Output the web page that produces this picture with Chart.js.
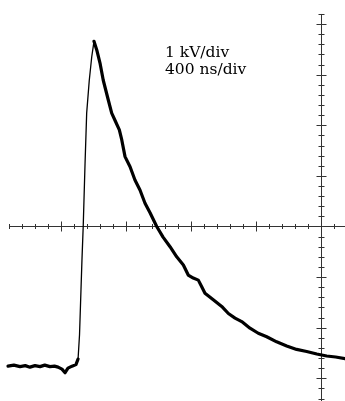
<!DOCTYPE html>
<html>
<head>
<meta charset="utf-8">
<script src="https://cdn.jsdelivr.net/npm/chart.js@4"></script>
<style>
html,body{margin:0;padding:0;background:#fff;}
#wrap{width:345px;height:401px;}
</style>
</head>
<body>
<div id="wrap"><canvas id="c" width="345" height="401"></canvas></div>
<script>
// Time (ns) and voltage (kV)
const timeNs = [-326,-290,-252,-220,-191,-160,-129,-100,-68,-40,-18,6,25,43,68,92,105,114,123,129,137,148,158,174,189,203,
  220,240,260,291,312,332,359,374,394,425,455,486,517,548,589,628,671,712,753,783,814,845,866,886,937,989,1030,1071,1112,
  1163,1214,1266,1327,1389,1450,1512,1574,1635,1690,1748];
const voltageKv = [-2.76,-2.74,-2.77,-2.75,-2.78,-2.75,-2.77,-2.74,-2.77,-2.76,-2.78,-2.82,-2.89,-2.80,-2.76,-2.73,-2.62,-2.14,-1.25,-0.66,0.03,1.25,2.24,2.89,3.35,3.66,
  3.49,3.23,2.89,2.50,2.24,2.10,1.91,1.71,1.38,1.18,0.92,0.72,0.46,0.27,0.00,-0.21,-0.40,-0.60,-0.76,-0.96,-1.02,-1.06,-1.19,-1.32,
  -1.45,-1.58,-1.72,-1.81,-1.88,-2.01,-2.11,-2.18,-2.28,-2.36,-2.43,-2.47,-2.52,-2.56,-2.58,-2.61];
const labelLines = ["1 kV/div", "400 ns/div"];
const xTickStepNs = 80, xMajorNs = 400;
const yTickStepKv = 0.2, yMajorKv = 1;
const axisTimeNs = 1600;
const hAxisStartNs = -320;
const vAxisTopKv = 4.2;

const points = timeNs.map((t, i) => ({x: t, y: voltageKv[i]}));

const scopeAxes = {
  id: 'scopeAxes',
  beforeDatasetsDraw(chart) {
    const {ctx, scales: {x, y}, chartArea} = chart;
    ctx.save();
    ctx.strokeStyle = '#333';
    ctx.lineWidth = 1;
    const y0 = Math.round(y.getPixelForValue(0)) + 0.5;
    const xv = Math.round(x.getPixelForValue(axisTimeNs)) + 0.5;
    // horizontal axis
    ctx.beginPath();
    ctx.moveTo(x.getPixelForValue(hAxisStartNs), y0);
    ctx.lineTo(chartArea.right, y0);
    ctx.stroke();
    for (let t = hAxisStartNs; t <= x.max; t += xTickStepNs) {
      const px = Math.round(x.getPixelForValue(t)) + 0.5;
      const major = Math.abs(t % xMajorNs) < 1e-6;
      const h = major ? 5 : 2.5;
      ctx.beginPath(); ctx.moveTo(px, y0 - h); ctx.lineTo(px, y0 + h); ctx.stroke();
    }
    // vertical axis
    ctx.beginPath();
    ctx.moveTo(xv, y.getPixelForValue(vAxisTopKv));
    ctx.lineTo(xv, chartArea.bottom);
    ctx.stroke();
    for (let k = Math.round(vAxisTopKv / yTickStepKv); k * yTickStepKv >= y.min; k--) {
      const v = k * yTickStepKv;
      const py = Math.round(y.getPixelForValue(v)) + 0.5;
      const major = (k % Math.round(yMajorKv / yTickStepKv)) === 0;
      const w = major ? 5 : 3;
      ctx.beginPath(); ctx.moveTo(xv - w, py); ctx.lineTo(xv + w, py); ctx.stroke();
    }
    // scale labels
    ctx.fillStyle = '#000';
    ctx.font = '15.5px "DejaVu Serif", serif';
    ctx.textBaseline = 'alphabetic';
    ctx.fillText(labelLines[0], 165, 57);
    ctx.fillText(labelLines[1], 165, 74);
    ctx.restore();
  }
};

new Chart(document.getElementById('c'), {
  type: 'line',
  data: {
    datasets: [{
      data: points,
      borderColor: '#000',
      borderWidth: 3.2,
      pointRadius: 0,
      tension: 0,
      borderJoinStyle: 'round',
      borderCapStyle: 'round',
      segment: {
        borderWidth: c => (c.p0.parsed.x >= 105 && c.p1.parsed.x <= 203) ? 1.3 : 3.2
      }
    }]
  },
  options: {
    responsive: false,
    animation: false,
    events: [],
    layout: {padding: 0},
    plugins: {legend: {display: false}, tooltip: {enabled: false}},
    scales: {
      x: {type: 'linear', display: false, min: -375.4, max: 1747.7},
      y: {type: 'linear', display: false, min: -3.449, max: 4.476}
    }
  },
  plugins: [scopeAxes]
});
</script>
</body>
</html>
